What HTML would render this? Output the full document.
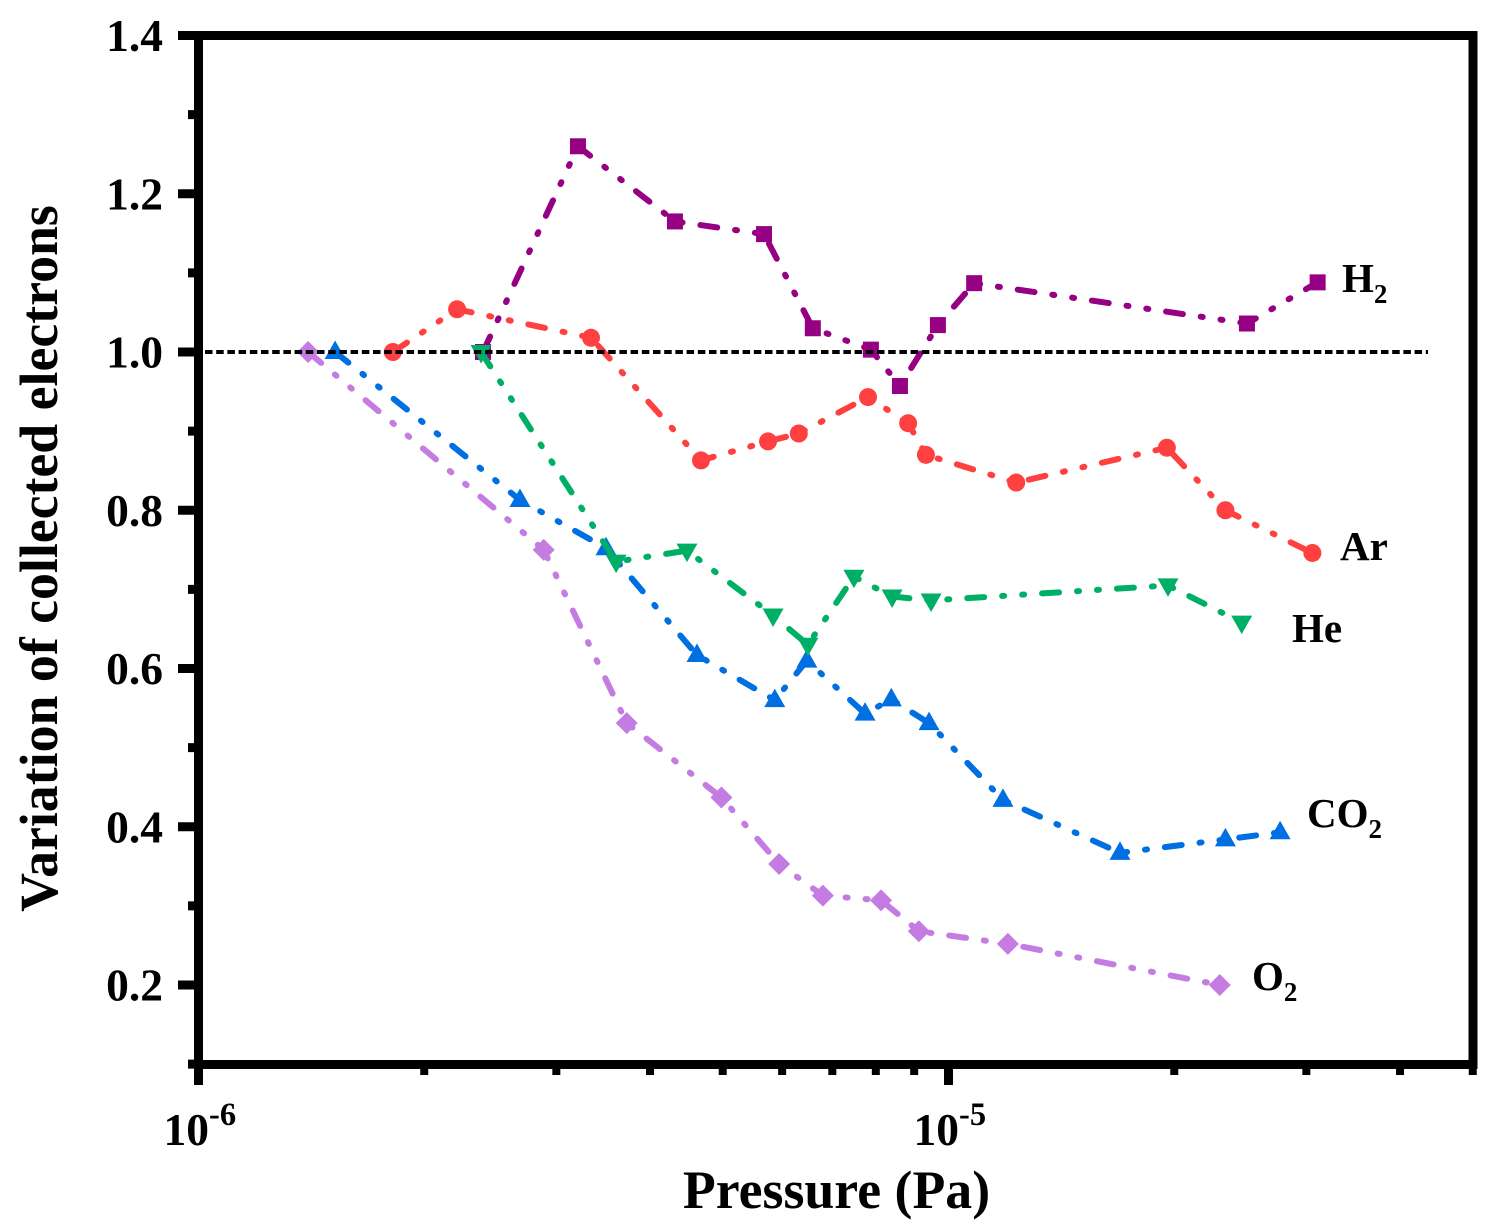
<!DOCTYPE html>
<html lang="en">
<head>
<meta charset="utf-8">
<title>Variation of collected electrons vs pressure</title>
<style>
html,body{margin:0;padding:0;background:#fff;}
svg{display:block;}
text{font-family:"Liberation Serif",serif;font-weight:bold;fill:#000;}
</style>
</head>
<body>
<svg id="chart" xmlns="http://www.w3.org/2000/svg" width="1495" height="1229" viewBox="0 0 1495 1229">
  <rect x="0" y="0" width="1495" height="1229" fill="#fff"/>
  <g id="series-layer"></g>
  <g id="reference-layer"></g>
  <g id="axes-layer"></g>
  <text x="836.5" y="1208" font-size="53.8" text-anchor="middle">Pressure (Pa)</text>
  <text transform="translate(57,558.5) rotate(-90)" font-size="53.8" text-anchor="middle">Variation of collected electrons</text>
  <text x="1342" y="292" font-size="41">H<tspan font-size="27" dy="11">2</tspan></text>
  <text x="1340" y="560" font-size="41">Ar</text>
  <text x="1292" y="642" font-size="41">He</text>
  <text x="1307" y="827" font-size="41">CO<tspan font-size="27" dy="11">2</tspan></text>
  <text x="1252" y="990" font-size="41">O<tspan font-size="27" dy="11">2</tspan></text>
</svg>
<script>
// Axis tick values
const yMajorTicks = [0.2, 0.4, 0.6, 0.8, 1.0, 1.2, 1.4];
const yMinorTicks = [0.1, 0.3, 0.5, 0.7, 0.9, 1.1, 1.3];
const yTickLabels = ['0.2', '0.4', '0.6', '0.8', '1.0', '1.2', '1.4'];
const xMajorTicks = [1e-6, 1e-5];
const xTickExponents = ['-6', '-5'];
const xMinorTicks = [2e-6, 3e-6, 4e-6, 5e-6, 6e-6, 7e-6, 8e-6, 9e-6, 2e-5, 3e-5, 4e-5, 5e-5];
const referenceLevel = [1.0];

// Series values (pressure in units of 1e-6 Pa, variation is a ratio)
const h2Pressure = [2.395, 3.206, 4.318, 5.676, 6.593, 7.88, 8.615, 9.68, 10.82, 25.0, 31.06];
const h2Variation = [1.0, 1.26, 1.165, 1.149, 1.03, 1.003, 0.957, 1.034, 1.087, 1.036, 1.088];
const arPressure = [1.816, 2.212, 3.337, 4.677, 5.746, 6.315, 7.81, 8.835, 9.33, 12.31, 19.55, 23.4, 30.56];
const arVariation = [1.0, 1.054, 1.018, 0.863, 0.887, 0.897, 0.943, 0.910, 0.870, 0.835, 0.879, 0.80, 0.746];
const hePressure = [2.381, 3.604, 4.48, 5.836, 6.494, 7.48, 8.41, 9.48, 19.62, 24.6];
const heVariation = [1.0, 0.735, 0.749, 0.667, 0.63, 0.716, 0.691, 0.686, 0.705, 0.658];
const co2Pressure = [1.521, 2.683, 3.494, 4.62, 5.866, 6.474, 7.74, 8.39, 9.42, 11.82, 16.93, 23.4, 27.68];
const co2Variation = [1.0, 0.813, 0.752, 0.617, 0.56, 0.61, 0.543, 0.561, 0.531, 0.434, 0.367, 0.384, 0.393];
const o2Pressure = [1.40, 2.886, 3.724, 4.98, 5.946, 6.80, 8.13, 9.13, 12.0, 23.0];
const o2Variation = [1.0, 0.75, 0.531, 0.437, 0.353, 0.313, 0.307, 0.268, 0.252, 0.2];

const SVG_NS = 'http://www.w3.org/2000/svg';

function xScale(pressure) {
  return 198.5 + 750 * (Math.log10(pressure) + 6);
}
function yScale(value) {
  return 985 - (value - 0.2) * 791.25;
}
function make(tag, parent, attrs) {
  const el = document.createElementNS(SVG_NS, tag);
  for (const k in attrs) el.setAttribute(k, attrs[k]);
  parent.appendChild(el);
  return el;
}

const seriesLayer = document.getElementById('series-layer');
const refLayer = document.getElementById('reference-layer');
const axesLayer = document.getElementById('axes-layer');

function drawMarker(group, kind, cx, cy, color) {
  let el;
  if (kind === 'square') {
    el = make('rect', group, {x: cx - 8, y: cy - 8, width: 16, height: 16, fill: color});
  } else if (kind === 'circle') {
    el = make('circle', group, {cx: cx, cy: cy, r: 9, fill: color});
  } else if (kind === 'up') {
    el = make('polygon', group, {points: [cx, cy - 11.5, cx + 10.5, cy + 7, cx - 10.5, cy + 7].join(' '), fill: color});
  } else if (kind === 'down') {
    el = make('polygon', group, {points: [cx, cy + 11.5, cx + 10.5, cy - 7, cx - 10.5, cy - 7].join(' '), fill: color});
  } else {
    el = make('polygon', group, {points: [cx, cy - 11, cx + 11, cy, cx, cy + 11, cx - 11, cy].join(' '), fill: color});
  }
  
  
}

function drawSeries(name, pressures, values, color, kind) {
  const group = make('g', seriesLayer, {});
  
  
  const pts = pressures.map(function (p, i) {
    return xScale(p * 1e-6).toFixed(2) + ',' + yScale(values[i]).toFixed(2);
  }).join(' ');
  const line = make('polyline', group, {
    points: pts, fill: 'none', stroke: color, 'stroke-width': 6,
    'stroke-linecap': 'round', 'stroke-linejoin': 'round',
    'stroke-dasharray': '17 18 2 18 2 18'
  });
  
  
  pressures.forEach(function (p, i) {
    drawMarker(group, kind, xScale(p * 1e-6), yScale(values[i]), color);
  });
}

drawSeries('o2', o2Pressure, o2Variation, '#C47CE2', 'diamond');
drawSeries('co2', co2Pressure, co2Variation, '#006FE2', 'up');
drawSeries('h2', h2Pressure, h2Variation, '#960082', 'square');
drawSeries('ar', arPressure, arVariation, '#FF4040', 'circle');
drawSeries('he', hePressure, heVariation, '#00AF66', 'down');

// Dotted reference line
referenceLevel.forEach(function (v) {
  const ref = make('line', refLayer, {
    x1: 205, x2: 1428, y1: yScale(v), y2: yScale(v),
    stroke: '#000', 'stroke-width': 4, 'stroke-dasharray': '7.5 3.7'
  });
  
  
});

// Axis frame
const frame = make('rect', axesLayer, {
  x: 198.5, y: 35.5, width: 1274.5, height: 1029,
  fill: 'none', stroke: '#000', 'stroke-width': 9
});



// Y ticks
yMajorTicks.forEach(function (v, i) {
  const y = yScale(v);
  const tick = make('rect', axesLayer, {x: 178, y: y - 4.5, width: 18, height: 9, fill: '#000'});
  
  
  const label = make('text', axesLayer, {x: 163, y: y + 15.5, 'font-size': 45.5, 'text-anchor': 'end'});
  
  
  label.textContent = yTickLabels[i];
});
yMinorTicks.forEach(function (v) {
  const y = yScale(v);
  const tick = make('rect', axesLayer, {x: 188, y: y - 4.5, width: 8, height: 9, fill: '#000'});
  
  
});

// X ticks
xMajorTicks.forEach(function (v, i) {
  const x = xScale(v);
  const tick = make('rect', axesLayer, {x: x - 4.5, y: 1066, width: 9, height: 19, fill: '#000'});
  
  
  const label = make('text', axesLayer, {x: x - 35, y: 1145, 'font-size': 45.5});
  
  
  label.textContent = '10';
  const exp = make('tspan', label, {'font-size': 32.5, dy: -20});
  exp.textContent = xTickExponents[i];
});
xMinorTicks.forEach(function (v) {
  const x = xScale(v);
  const tick = make('rect', axesLayer, {x: x - 4, y: 1066, width: 8, height: 9, fill: '#000'});
  
  
});
</script>
</body>
</html>
